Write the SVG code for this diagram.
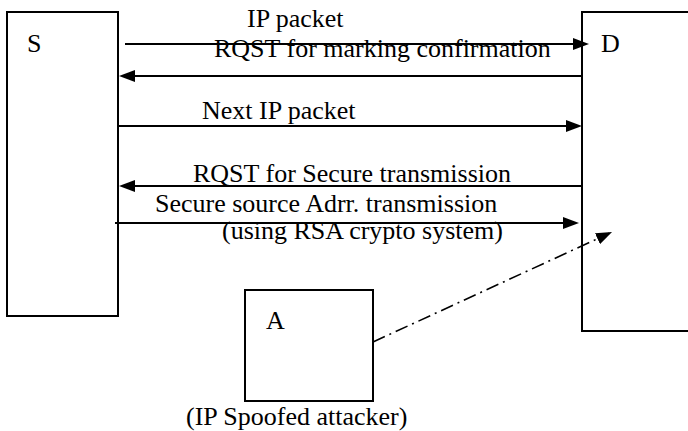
<svg xmlns="http://www.w3.org/2000/svg" width="688" height="431" viewBox="0 0 688 431">
  <style>
    .box { fill: #ffffff; stroke: #000000; stroke-width: 2; }
    .msg { stroke: #000000; stroke-width: 2; fill: none; marker-end: url(#head); }
    .spoof { stroke: #000000; stroke-width: 1.6; fill: none; stroke-dasharray: 13 5 2 5; marker-end: url(#head); }
    text { font-family: "Liberation Serif", Tinos, "Times New Roman", Times, "Noto Serif", "DejaVu Serif", FreeSerif, serif; font-size: 26px; fill: #000000; }
  </style>
  <defs>
    <marker id="head" viewBox="0 0 16 12" refX="13" refY="6" markerWidth="16" markerHeight="12" markerUnits="userSpaceOnUse" orient="auto">
      <path d="M0,0 L16,6 L0,12 z" fill="#000000"/>
    </marker>
  </defs>
  <rect width="688" height="431" fill="#ffffff"/>

  <!-- source host -->
  <g id="node-S">
    <rect class="box" x="7" y="12" width="111" height="304"/>
    <text x="27" y="52">S</text>
  </g>

  <!-- destination host -->
  <g id="node-D">
    <rect class="box" x="582" y="12" width="120" height="319"/>
    <text x="601" y="52">D</text>
  </g>

  <!-- attacker -->
  <g id="node-A">
    <rect class="box" x="245" y="290" width="128" height="111"/>
    <text x="266" y="329">A</text>
    <text x="186" y="425">(IP Spoofed attacker)</text>
  </g>

  <!-- message exchange -->
  <g id="connectors">
    <line class="msg" x1="125" y1="44" x2="586" y2="44"/>
    <text x="247" y="27">IP packet</text>

    <line class="msg" x1="582" y1="76" x2="122" y2="76"/>
    <text x="214" y="57">RQST for marking confirmation</text>

    <line class="msg" x1="118" y1="126" x2="579" y2="126"/>
    <text x="202" y="119">Next IP packet</text>

    <line class="msg" x1="582" y1="186" x2="122" y2="186"/>
    <text x="193" y="182">RQST for Secure transmission</text>

    <line class="msg" x1="115" y1="223" x2="576" y2="223"/>
    <text x="155" y="212">Secure source Adrr. transmission</text>
    <text x="222" y="239">(using RSA crypto system)</text>

    <line class="spoof" x1="373" y1="342" x2="609.3" y2="233.3"/>
  </g>
</svg>
